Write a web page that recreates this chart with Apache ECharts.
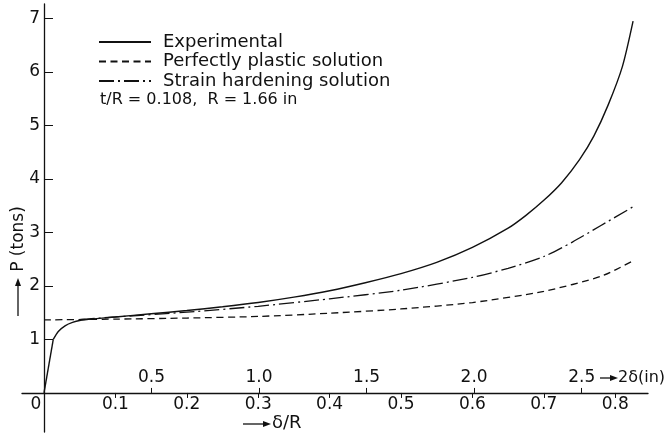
<!DOCTYPE html>
<html>
<head>
<meta charset="utf-8">
<script src="https://cdn.jsdelivr.net/npm/echarts@6/dist/echarts.min.js"></script>
<style>
  html, body { margin: 0; padding: 0; background: #fff; }
  #chart { width: 668px; height: 434px; }
</style>
</head>
<body>
<div id="chart"></div>
<script>
// Load P against deflection δ/R for a tube of t/R = 0.108, R = 1.66 in
// elastic rise of the test, then the plastic part of the measured curve
const experimentalElastic = [[0, 0], [0.013, 1.0]];
const experimental = [
  [0.013, 1.0], [0.02, 1.15], [0.03, 1.26], [0.04, 1.32], [0.05, 1.355],
  [0.07, 1.385], [0.1, 1.42], [0.15, 1.48], [0.2, 1.54], [0.25, 1.61], [0.3, 1.69],
  [0.35, 1.79], [0.4, 1.91], [0.45, 2.06], [0.5, 2.23], [0.55, 2.44], [0.6, 2.72],
  [0.65, 3.08], [0.675, 3.32], [0.7, 3.6], [0.725, 3.93], [0.75, 4.36], [0.77, 4.8],
  [0.79, 5.38], [0.81, 6.1], [0.825, 6.95]
];
const perfectlyPlastic = [
  [0, 1.365], [0.1, 1.38], [0.2, 1.40], [0.3, 1.43], [0.4, 1.49], [0.5, 1.57],
  [0.6, 1.69], [0.7, 1.90], [0.78, 2.18], [0.825, 2.47]
];
const strainHardening = [
  [0.05, 1.37], [0.1, 1.42], [0.2, 1.51], [0.3, 1.62], [0.4, 1.76], [0.5, 1.92],
  [0.6, 2.16], [0.65, 2.33], [0.7, 2.55], [0.74, 2.82], [0.78, 3.13], [0.825, 3.48]
];

const deltaTicks = [0, 0.1, 0.2, 0.3, 0.4, 0.5, 0.6, 0.7, 0.8];
const inchTicks = [0.5, 1.0, 1.5, 2.0, 2.5];
const loadTicks = [1, 2, 3, 4, 5, 6, 7];

const twoR = 2 * 1.66;           // 2δ (in) = δ/R × 2R
const xMin = -0.0308, xMax = 0.8459;
const yMin = -0.73, yMax = 7.27;

// the axes cross at the origin, inside the plotting box
const GRID = { left: 22, right: 20, top: 4, bottom: 2 };
const PLOT_W = 668 - GRID.left - GRID.right;
const PLOT_H = 434 - GRID.top - GRID.bottom;
const xAxisShift = -PLOT_H * (0 - yMin) / (yMax - yMin);
const yAxisShift = -PLOT_W * (0 - xMin) / (xMax - xMin);

const FONT = 'DejaVu Sans';
const INK = '#111';
const SIZE = 17;

const chart = echarts.init(document.getElementById('chart'), null, { renderer: 'canvas' });

const lineBase = {
  type: 'line', symbol: 'none', showSymbol: false, smooth: 0.25,
  silent: true, animation: false, xAxisIndex: 0
};

chart.setOption({
  backgroundColor: '#fff',
  animation: false,
  grid: Object.assign({ containLabel: false, outerBoundsMode: 'none' }, GRID),
  legend: {
    orient: 'vertical', left: 98, top: 33, padding: 0,
    itemWidth: 52, itemHeight: 12, itemGap: 1.5,
    itemStyle: { opacity: 0 },
    textStyle: { fontFamily: FONT, fontSize: 18, color: INK, padding: [0, 0, 0, 7] },
    data: ['Experimental', 'Perfectly plastic solution', 'Strain hardening solution']
  },
  xAxis: [{
    type: 'value', min: xMin, max: xMax, position: 'bottom', offset: xAxisShift,
    axisLine: { onZero: false, lineStyle: { color: INK, width: 1.3 } },
    splitLine: { show: false },
    axisTick: { show: true, inside: false, length: 5, customValues: deltaTicks.slice(1),
      lineStyle: { color: INK } },
    axisLabel: {
      customValues: deltaTicks, margin: 3, color: INK, fontFamily: FONT, fontSize: SIZE,
      formatter: v => v === 0 ? '{z|0}' : v.toFixed(1),
      rich: { z: { fontFamily: FONT, fontSize: SIZE, color: INK, padding: [0, 16, 0, 0] } }
    }
  }, {
    type: 'value', min: xMin * twoR, max: xMax * twoR, position: 'bottom', offset: xAxisShift,
    axisLine: { show: false, onZero: false },
    splitLine: { show: false },
    axisTick: { show: true, inside: true, length: 5, customValues: inchTicks,
      lineStyle: { color: INK } },
    axisLabel: {
      inside: true, customValues: inchTicks, margin: 7, color: INK,
      fontFamily: FONT, fontSize: SIZE, formatter: v => v.toFixed(1)
    }
  }],
  yAxis: {
    type: 'value', min: yMin, max: yMax, position: 'left', offset: yAxisShift,
    axisLine: { show: true, onZero: false, lineStyle: { color: INK, width: 1.3 } },
    splitLine: { show: false },
    axisTick: { show: true, inside: true, length: 9, customValues: loadTicks,
      lineStyle: { color: INK } },
    axisLabel: { customValues: loadTicks, margin: 4, color: INK, fontFamily: FONT, fontSize: SIZE }
  },
  series: [
    Object.assign({}, lineBase, {
      name: 'Experimental', data: experimentalElastic, smooth: false,
      lineStyle: { color: INK, width: 1.4, type: 'solid' }, itemStyle: { color: INK }
    }),
    Object.assign({}, lineBase, {
      name: 'Experimental', data: experimental,
      lineStyle: { color: INK, width: 1.4, type: 'solid' }, itemStyle: { color: INK }
    }),
    Object.assign({}, lineBase, {
      name: 'Perfectly plastic solution', data: perfectlyPlastic,
      lineStyle: { color: INK, width: 1.3, type: [7, 4.5] }, itemStyle: { color: INK }
    }),
    Object.assign({}, lineBase, {
      name: 'Strain hardening solution', data: strainHardening,
      lineStyle: { color: INK, width: 1.3, type: [15, 4, 2, 4] }, itemStyle: { color: INK }
    })
  ],
  graphic: [
    { type: 'text', x: 100, y: 100,
      style: { text: 't/R = 0.108,  R = 1.66 in', font: '16px "DejaVu Sans"', fill: INK,
        verticalAlign: 'middle' } },
    // axis name: δ/R with arrow
    { type: 'line', shape: { x1: 243, y1: 424, x2: 266, y2: 424 }, style: { stroke: INK, lineWidth: 1.3 } },
    { type: 'polygon', shape: { points: [[271, 424], [263, 421], [263, 427]] }, style: { fill: INK } },
    { type: 'text', x: 272, y: 423,
      style: { text: 'δ/R', font: '18px "DejaVu Sans"', fill: INK, verticalAlign: 'middle' } },
    // axis name: 2δ (in) with arrow
    { type: 'line', shape: { x1: 600, y1: 378, x2: 613, y2: 378 }, style: { stroke: INK, lineWidth: 1.3 } },
    { type: 'polygon', shape: { points: [[618, 378], [610, 375], [610, 381]] }, style: { fill: INK } },
    { type: 'text', x: 618, y: 378,
      style: { text: '2δ(in)', font: '16px "DejaVu Sans"', fill: INK, verticalAlign: 'middle' } },
    // axis name: P (tons) with arrow
    { type: 'line', shape: { x1: 18, y1: 316, x2: 18, y2: 284 }, style: { stroke: INK, lineWidth: 1.3 } },
    { type: 'polygon', shape: { points: [[18, 278], [15, 286], [21, 286]] }, style: { fill: INK } },
    { type: 'text', x: 19, y: 239, rotation: Math.PI / 2,
      style: { text: 'P (tons)', font: SIZE + 'px "DejaVu Sans"', fill: INK, align: 'center', verticalAlign: 'middle' } }
  ]
});
</script>
</body>
</html>
